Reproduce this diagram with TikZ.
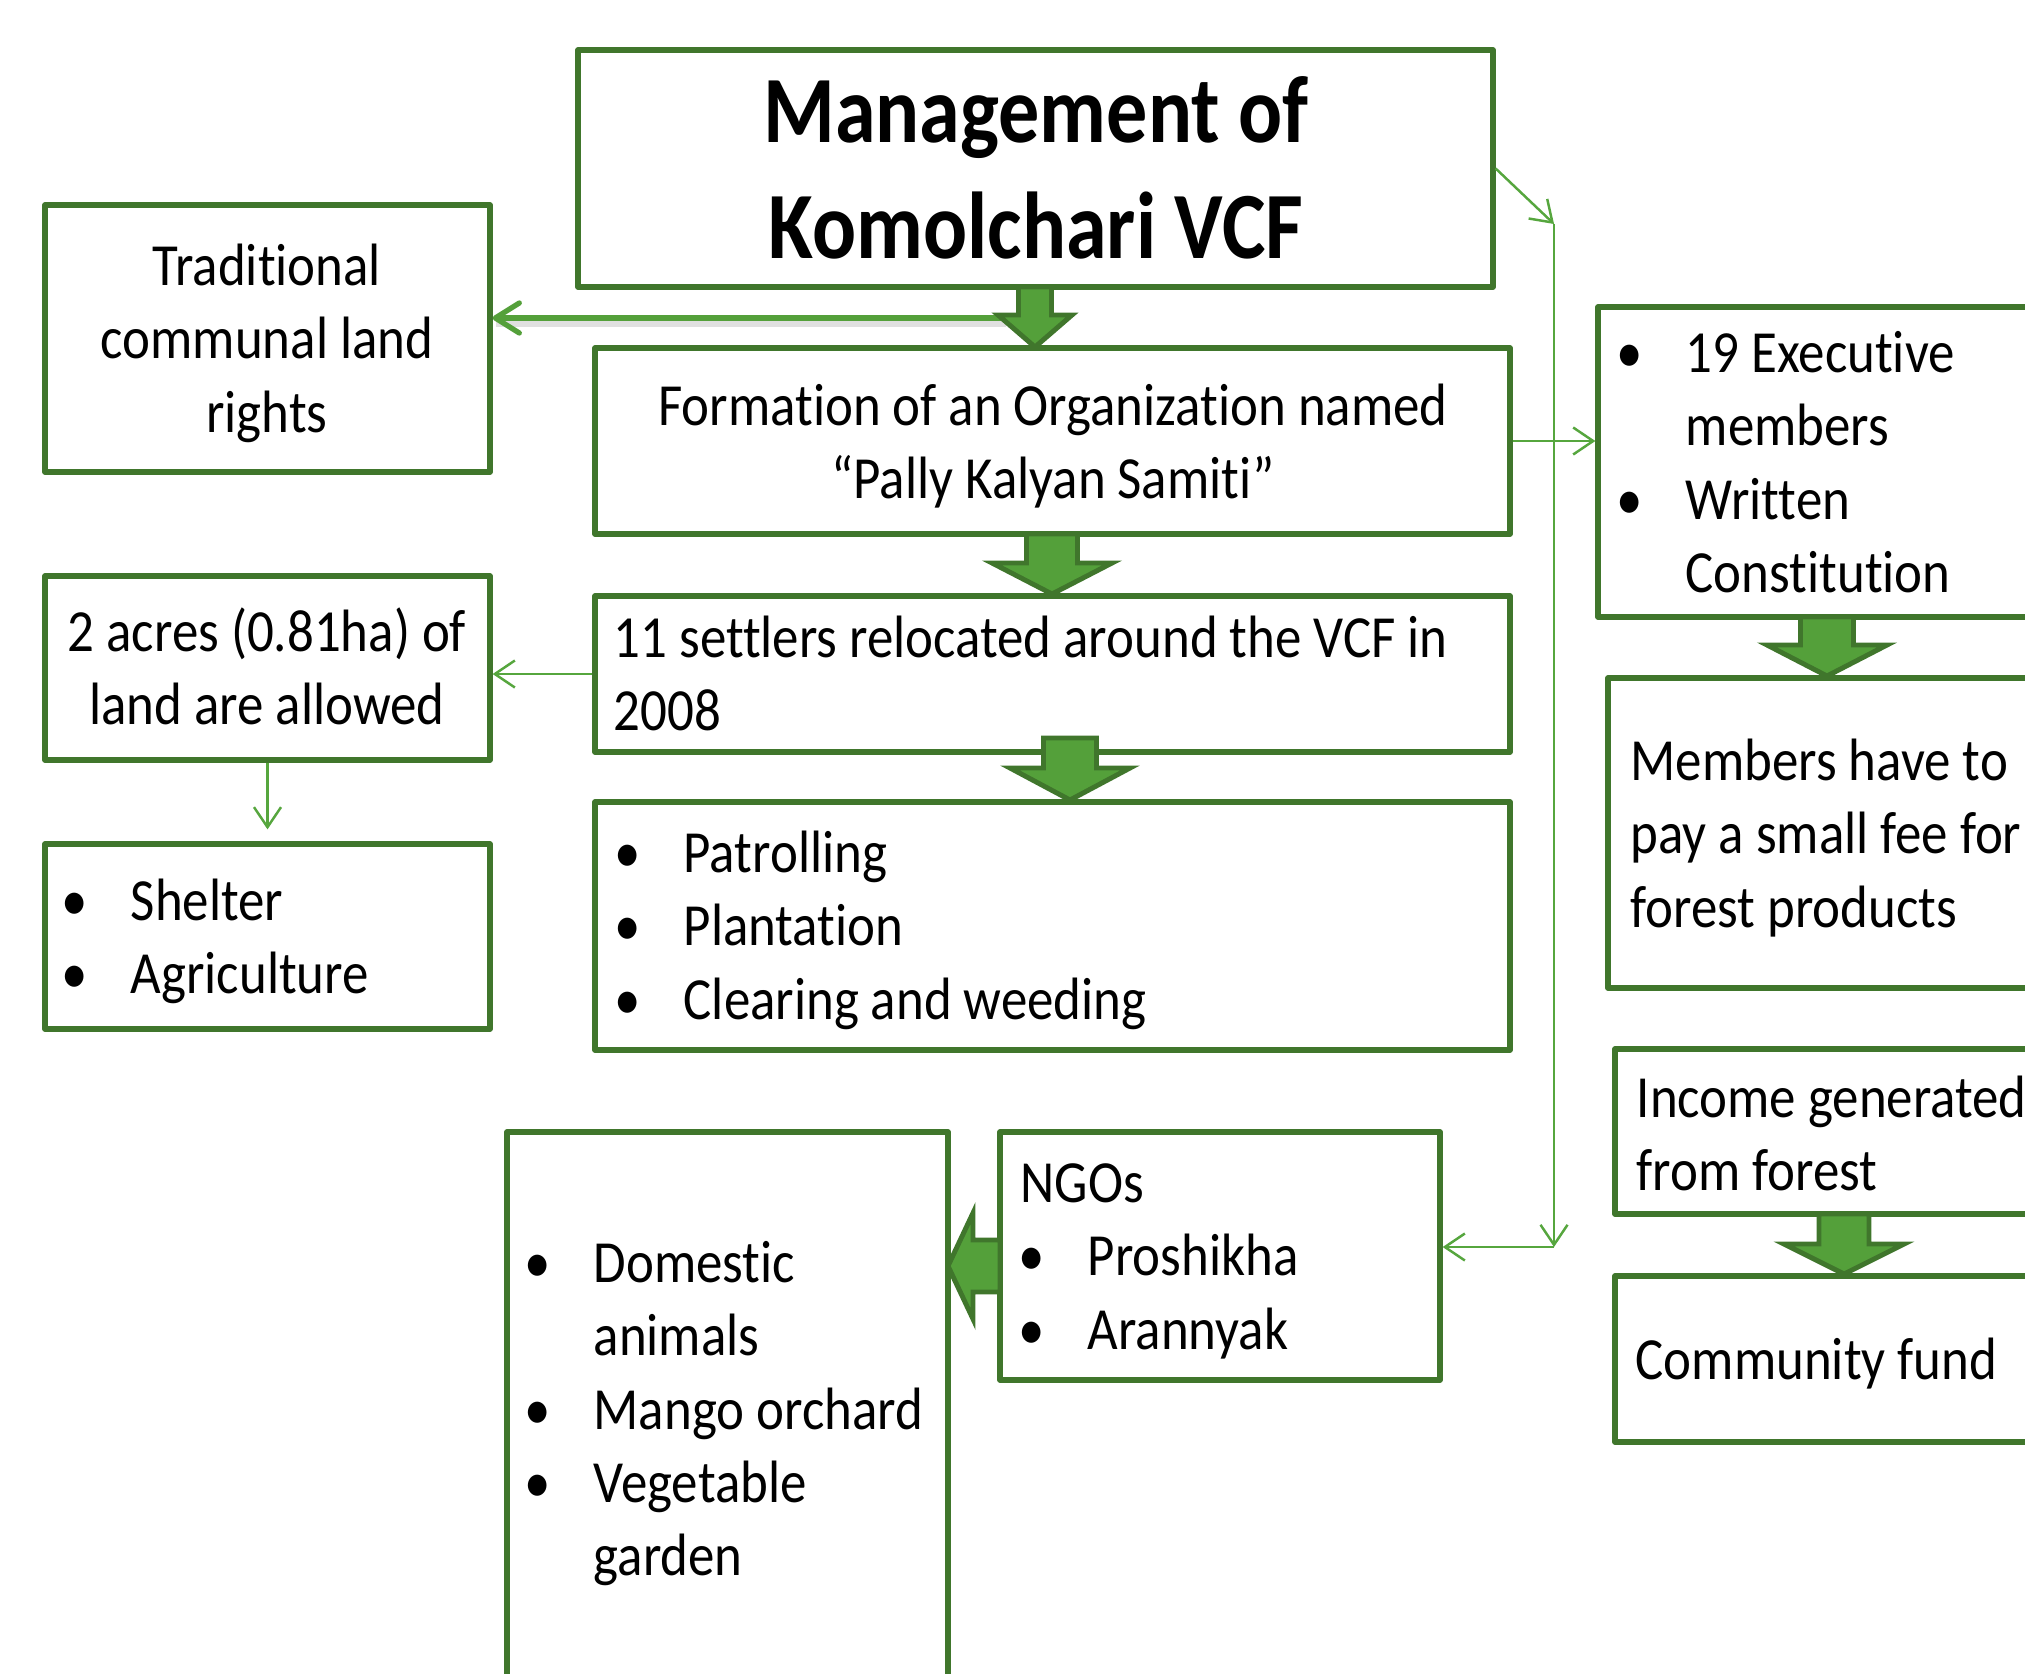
\documentclass[tikz,border=0pt]{standalone}
\usepackage{fontspec}
\setmainfont{Carlito}[FakeStretch=0.885,Ligatures={NoCommon}]
\newfontfamily\titlefont{Carlito}[FakeStretch=0.865,Ligatures={NoCommon}]
\usetikzlibrary{arrows.meta,fit,calc}
\definecolor{boxgreen}{RGB}{64,118,44}
\definecolor{fillgreen}{RGB}{84,160,58}
\definecolor{linegreen}{RGB}{86,166,62}
\newcommand\mystrut{\rule{0pt}{0.5cm}}
\newcommand\mytstrut{\rule{0pt}{0.8cm}}
\newcommand\bul{\makebox[0pt]{•}\hspace*{0.56cm}}
\newcommand\nobul{\hspace*{0.56cm}}
\tikzset{
 box/.style={draw=boxgreen, line width=1.5pt, line join=round, inner sep=0pt, fill=white},
 body/.style={inner sep=0pt, font=\fontsize{17}{20.8}\selectfont, text=black},
 conn/.style={draw=linegreen, line width=0.7pt, -{Straight Barb[length=0.2cm,width=0.27cm]}},
 bigconn/.style={draw=fillgreen, line width=1.5pt, line cap=round, -{Straight Barb[length=0.24cm,width=0.3cm,round]}},
 blockarrow/.style={fill=fillgreen, draw=boxgreen, line width=1.4pt, line join=miter},
}
\newcommand\dnarrow[6]{%
 \path[blockarrow] (#1-#5,#2) -- (#1+#5,#2) -- (#1+#5,#3) -- (#1+#6,#3) -- (#1,#4) -- (#1-#6,#3) -- (#1-#5,#3) -- cycle;}
\begin{document}
\begin{tikzpicture}[x=0.01cm,y=-0.01cm]
\useasboundingbox (0,0) rectangle (2025,1673);
\clip (0,0) rectangle (2025,1673);
% boxes
\node[box, fit={(578,50) (1493,287)}] (title) {};
\node[box, fit={(45,205) (490,472)}] (trad) {};
\node[box, fit={(595,348) (1510,534)}] (form) {};
\node[box, fit={(595,596) (1510,752)}] (settl) {};
\node[box, fit={(595,802) (1510,1050)}] (patrol) {};
\node[box, fit={(45,576) (490,760)}] (acres) {};
\node[box, fit={(45,844) (490,1029)}] (shelter) {};
\node[box, fit={(1598,307) (2080,617)}] (exec) {};
\node[box, fit={(1608,678) (2080,988)}] (members) {};
\node[box, fit={(1615,1049) (2080,1214)}] (income) {};
\node[box, fit={(1615,1276) (2080,1442)}] (comm) {};
\node[box, fit={(1000,1132) (1440,1380)}] (ngos) {};
\node[box, fit={(507,1132) (948,1720)}] (dom) {};
% texts
\node[body, anchor=north, align=center, font=\titlefont\bfseries\fontsize{27}{32.9}\selectfont] (ttitle) at (1036,62) {\mytstrut Management of\\Komolchari VCF};
\node[body, anchor=north, align=center] (ttrad) at (267,235) {\mystrut Traditional\\communal land\\rights};
\node[body, anchor=north, align=center] (tform) at (1053,375) {\mystrut Formation of an Organization named\\“Pally Kalyan Samiti”};
\node[body, anchor=north west, align=left] (tsettl) at (613,607) {\mystrut 11 settlers relocated around the VCF in\\2008};
\node[body, anchor=north west, align=left] (tpatrol) at (627,822) {\mystrut\bul Patrolling\\\bul Plantation\\\bul Clearing and weeding};
\node[body, anchor=north, align=center] (tacres) at (267,601) {\mystrut 2 acres (0.81ha) of\\land are allowed};
\node[body, anchor=north west, align=left] (tshelter) at (74,870) {\mystrut\bul Shelter\\\bul Agriculture};
\node[body, anchor=north west, align=left] (texec) at (1629,322) {\mystrut\bul 19 Executive\\\nobul members\\\bul Written\\\nobul Constitution};
\node[body, anchor=north west, align=left] (tmembers) at (1630,730) {\mystrut Members have to\\pay a small fee for\\forest products};
\node[body, anchor=north west, align=left] (tincome) at (1636,1067) {\mystrut Income generated\\from forest};
\node[body, anchor=north west, align=left] (tcomm) at (1635,1329) {\mystrut Community fund};
\node[body, anchor=north west, align=left] (tngos) at (1020,1152) {\mystrut NGOs\\\hspace*{0.11cm}\bul Proshikha\\\hspace*{0.11cm}\bul Arannyak};
\node[body, anchor=north west, align=left] (tdom) at (537,1232) {\mystrut\bul Domestic\\\nobul animals\\\bul Mango orchard\\\bul Vegetable\\\nobul garden};
% thick connector to traditional rights, with shadow
\coordinate (j0) at (1003,318);
\draw[line width=2pt, black, opacity=0.12] ([shift={(3,5)}]j0) -- ([shift={(3,5)}]j0 -| trad.east);
\draw[bigconn] (j0) -- (j0 -| trad.east);
% block arrows
\dnarrow{1035}{287}{315}{347}{16.5}{37}
\dnarrow{1052}{534}{563}{594}{25.5}{60}
\dnarrow{1070}{738}{768}{800}{26.5}{60}
\dnarrow{1827}{617}{645}{676}{26.5}{60}
\dnarrow{1844}{1214}{1244}{1274}{25}{60}
\path[blockarrow] (1000,1240) -- (973,1240) -- (973,1213) -- (948,1266) -- (973,1319) -- (973,1292) -- (1000,1292) -- cycle;
% thin connectors
\coordinate (j1) at (1554,224);
\coordinate (j2) at (1554,1247);
\draw[conn] (title.east) -- (j1);
\draw[conn] (j1) -- (j2);
\draw[conn] (j2) -- (j2 -| ngos.east);
\draw[conn] (form.east) -- (form.east -| exec.west);
\draw[conn] (settl.west) -- (settl.west -| acres.east);
\draw[conn] (acres.south) -- ([yshift=0.12cm]shelter.north);
\end{tikzpicture}
\end{document}
